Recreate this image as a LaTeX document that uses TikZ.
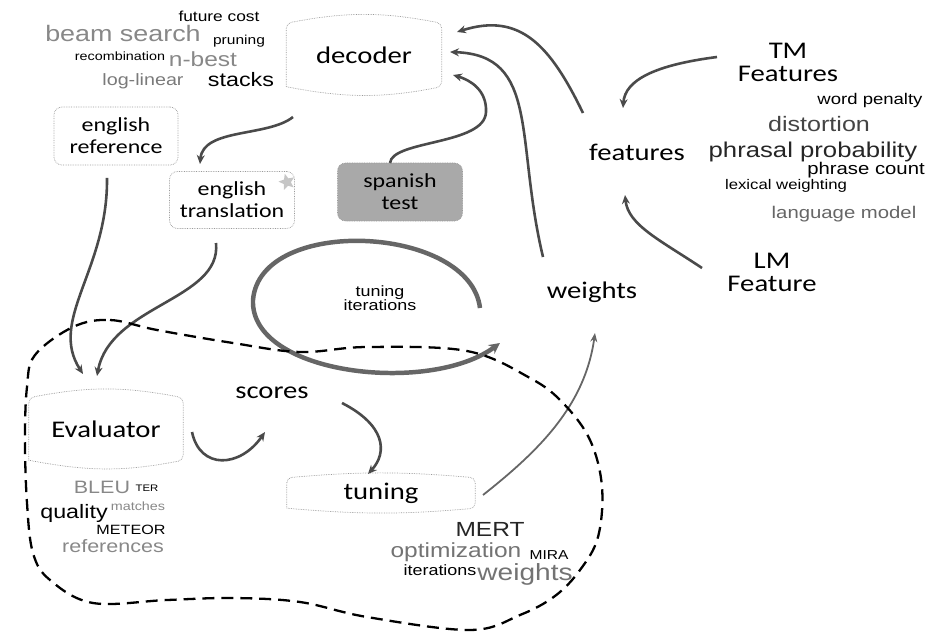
\documentclass[tikz,border=0pt]{standalone}
\usepackage{fontspec}
\usepackage{tikz}
\usetikzlibrary{arrows.meta}
\usetikzlibrary{shapes.geometric}
\newfontfamily\boxfont[FakeStretch=1.2]{Carlito}
\newfontfamily\cloudfont[FakeStretch=1.2]{Liberation Sans}
\newcommand\wsize[1]{\fontsize{#1}{#1}\selectfont}
\definecolor{arrowgray}{HTML}{4A4A4A}
\definecolor{loopgray}{HTML}{666666}
\definecolor{cloudgray}{HTML}{888888}
\definecolor{clouddark}{HTML}{444444}
\definecolor{testfill}{HTML}{A9A9A9}
\tikzset{
    canline/.style={draw=gray!80, densely dotted, line width=0.7pt, rounded corners=5pt},
    can/.style={inner sep=0pt, font=\boxfont\wsize{24}},
    roundbox/.style={draw=gray!80, densely dotted, line width=0.7pt, rounded corners=8pt,
        align=center, inner sep=0pt, font=\boxfont\fontsize{20}{22}\selectfont},
    lbl/.style={inner sep=0pt, align=center, font=\boxfont\fontsize{24}{23}\selectfont},
    cloud/.style={inner sep=0pt, font=\cloudfont},
    flow/.style={draw=arrowgray, line width=2.6pt, -{Stealth[length=9pt,width=8pt]}},
    thinflow/.style={draw=loopgray, line width=1.8pt, -{Stealth[length=9pt,width=7pt]}},
    looparrow/.style={draw=loopgray, line width=4.5pt, -{Stealth[length=11pt,width=11pt]}},
    blob/.style={draw=black, line width=2.3pt, dash pattern=on 12pt off 7pt}
}

\begin{document}
\begin{tikzpicture}[x=1bp, y=-1bp]
    \useasboundingbox (0,0) rectangle (929,636);
    % boxes
    \node[can, minimum width=155bp, minimum height=63bp] (dec) at (364,55) {decoder};
    \node[can, minimum width=154bp, minimum height=62bp] (eval) at (106,429) {Evaluator};
    \node[can, minimum width=188bp, minimum height=30bp] (tun) at (381,493) {tuning};
    \foreach \n/\b in {dec/11, eval/11, tun/5}
        \draw[canline] (\n.south west) -- (\n.north west) to[bend left=\b] (\n.north east)
            -- (\n.south east) to[bend left=\b] (\n.south west);
    \node[roundbox, minimum width=124bp, minimum height=58bp] (eref) at (116,136) {english\\reference};
    \node[roundbox, minimum width=125bp, minimum height=57bp] (etr) at (232,200) {english\\translation};
    \node[roundbox, fill=testfill, minimum width=125bp, minimum height=58bp] (spa) at (400,192) {spanish\\test};
    \node[star, star points=5, star point ratio=2.2, fill=gray!45, minimum size=17bp, inner sep=0pt, rotate=15] (star) at (287,182) {};

    % labels
    \node[lbl] (feat) at (637,152) {features};
    \node[lbl] (wts) at (592,292) {weights};
    \node[lbl] (tm) at (788,62) {TM\\Features};
    \node[lbl] (lm) at (772,272) {LM\\Feature};
    \node[lbl] (scores) at (272,393) {scores};
    \node[cloud, align=center, font=\cloudfont\fontsize{15}{14}\selectfont] (iter) at (380,298) {tuning\\iterations};

    % decoder words
    \node[cloud] (w-future) at (219,16) {\wsize{14.5}future cost};
    \node[cloud, text=cloudgray] (w-beam) at (123,33) {\wsize{22.5}beam search};
    \node[cloud] (w-prune) at (239,41) {\wsize{13}pruning};
    \node[cloud] (w-recomb) at (120,56) {\wsize{12}recombination};
    \node[cloud, text=cloudgray] (w-nbest) at (203,59) {\wsize{20.5}n-best};
    \node[cloud, text=cloudgray!90!black] (w-loglin) at (143,81) {\wsize{16.5}log-linear};
    \node[cloud] (w-stacks) at (241,80) {\wsize{19.5}stacks};

    % feature words
    \node[cloud] (w-penalty) at (870,101) {\wsize{15.5}word penalty};
    \node[cloud, text=clouddark] (w-distort) at (819,124) {\wsize{21}distortion};
    \node[cloud, text=black!85] (w-phrasal) at (813,152) {\wsize{21.5}phrasal probability};
    \node[cloud] (w-count) at (866,170) {\wsize{17}phrase count};
    \node[cloud] (w-lexical) at (786,186) {\wsize{14}lexical weighting};
    \node[cloud, text=black!60] (w-langmod) at (844,214) {\wsize{17}language model};

    % evaluator words
    \node[cloud, text=cloudgray] (w-bleu) at (102,487) {\wsize{18}BLEU};
    \node[cloud] (w-ter) at (147,488) {\wsize{9.5}TER};
    \node[cloud] (w-quality) at (74,513) {\wsize{19.5}quality};
    \node[cloud, text=cloudgray] (w-matches) at (138,506) {\wsize{12}matches};
    \node[cloud] (w-meteor) at (131,530) {\wsize{13.5}METEOR};
    \node[cloud, text=cloudgray] (w-refs) at (113,546) {\wsize{18}references};

    % tuning words
    \node[cloud, text=black!85] (w-mert) at (490,529) {\wsize{20.5}MERT};
    \node[cloud, text=black!55] (w-optim) at (456,552) {\wsize{20.5}optimization};
    \node[cloud] (w-mira) at (549,555) {\wsize{13}MIRA};
    \node[cloud] (w-iters) at (440,570) {\wsize{15}iterations};
    \node[cloud, text=black!55] (w-weights) at (525,574) {\wsize{23.5}weights};

    % connector ends
    \coordinate (dec-a) at (457,32);
    \coordinate (dec-b) at (450,52);
    \coordinate (dec-c) at (453,75);
    \coordinate (dec-out) at (293,117);
    \coordinate (etr-in) at (200,164);
    \coordinate (eref-out) at (107,178);
    \coordinate (etr-out) at (216,243);
    \coordinate (eval-a) at (83,374);
    \coordinate (eval-b) at (97,376);
    \coordinate (eval-out) at (192,432);
    \coordinate (scores-in) at (265,432);
    \coordinate (scores-out) at (342,403);
    \coordinate (tun-in) at (368,474);
    \coordinate (tun-out) at (483,495);
    \coordinate (wts-in) at (595,333);
    \coordinate (wts-out) at (543,257);
    \coordinate (feat-out) at (583,113);
    \coordinate (feat-a) at (623,108);
    \coordinate (feat-b) at (625,195);
    \coordinate (tm-out) at (717,57);
    \coordinate (lm-out) at (702,268);
    \coordinate (spa-out) at (390,163);
    \coordinate (loop-start) at (480,308);
    \coordinate (loop-end) at (500,343);

    % connectors
    \draw[flow] (dec-out) .. controls (268,137) and (203,128) .. (etr-in);
    \draw[flow] (eref-out) .. controls (108,270) and (48,320) .. (eval-a);
    \draw[flow] (etr-out) .. controls (222,300) and (110,305) .. (eval-b);
    \draw[flow] (eval-out) .. controls (200,470) and (240,468) .. (scores-in);
    \draw[flow] (scores-out) .. controls (385,425) and (388,452) .. (tun-in);
    \draw[thinflow] (tun-out) .. controls (540,450) and (585,405) .. (wts-in);
    \draw[flow] (feat-out) .. controls (550,45) and (520,12) .. (dec-a);
    \draw[flow] (wts-out) .. controls (515,140) and (540,55) .. (dec-b);
    \draw[flow] (spa-out) .. controls (392,140) and (485,145) .. (486,112)
        .. controls (487,90) and (470,80) .. (dec-c);
    \draw[flow] (tm-out) .. controls (655,65) and (625,80) .. (feat-a);
    \draw[flow] (lm-out) .. controls (660,240) and (628,225) .. (feat-b);
    \draw[looparrow] (loop-start) .. controls (470,225) and (260,215) .. (253,300)
        .. controls (250,375) and (430,395) .. (loop-end);

    % tuning loop region
    \draw[blob] plot[smooth cycle, tension=0.6] coordinates {
        (73,327) (110,320) (157,330) (233,343) (300,352) (367,347) (467,351)
        (530,378) (563,403) (590,440) (602,487) (598,537) (580,570) (555,596)
        (520,615) (470,630) (367,617) (300,602) (233,598) (167,600) (93,603)
        (50,580) (33,553) (27,503) (25,440) (27,387) (35,355)};
\end{tikzpicture}
\end{document}
